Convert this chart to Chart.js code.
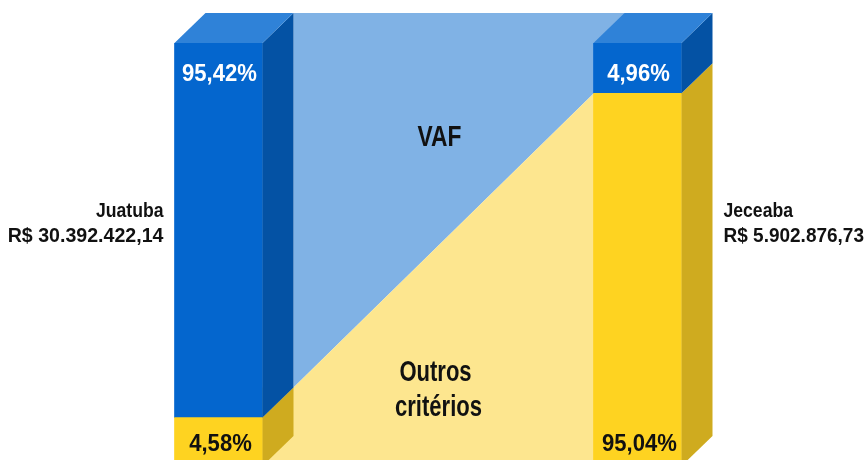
<!DOCTYPE html>
<html>
<head>
<meta charset="utf-8">
<script src="https://cdn.jsdelivr.net/npm/chart.js@4/dist/chart.umd.min.js"></script>
<style>
  html, body { margin: 0; padding: 0; background: #fff; overflow: hidden; }
  canvas { display: block; }
</style>
</head>
<body>
<canvas id="chart" width="866" height="470"></canvas>
<script>
// data
const municipios = ['Juatuba', 'Jeceaba'];
const valores = ['R$ 30.392.422,14', 'R$ 5.902.876,73'];
const vaf = [95.42, 4.96];
const outros = [4.58, 95.04];
const serieNomes = ['Outros critérios', 'VAF'];

const FONT = '"Liberation Sans", Arial, sans-serif';
const DX = 31, DY = -30;

const colors = {
  blue: { front: '#0466ce', side: '#0452a4', top: '#2f82d8', light: '#80b2e5' },
  yellow: { front: '#fed321', side: '#cfab1f', top: '#fde272', light: '#fde68f' }
};

// the picture stretches the small slices, so the value axis is warped a bit
const warpIn = [0, 5, 95, 100];
const warpOut = [0, 12.5, 88, 100];
function lerp(v, a, b) {
  for (let i = 0; i < a.length - 1; i++) {
    if (v <= a[i + 1] || i === a.length - 2) {
      return b[i] + (v - a[i]) * (b[i + 1] - b[i]) / (a[i + 1] - a[i]);
    }
  }
  return v;
}

class WarpScale extends Chart.LinearScale {
  getPixelForValue(value) {
    return super.getPixelForValue(lerp(value, warpIn, warpOut));
  }
  getValueForPixel(pixel) {
    return lerp(super.getValueForPixel(pixel), warpOut, warpIn);
  }
}
WarpScale.id = 'warp';
WarpScale.defaults = Chart.LinearScale.defaults;
Chart.register(WarpScale);

function poly(ctx, pts, fill) {
  ctx.beginPath();
  ctx.moveTo(pts[0][0], pts[0][1]);
  for (let i = 1; i < pts.length; i++) ctx.lineTo(pts[i][0], pts[i][1]);
  ctx.closePath();
  ctx.fillStyle = fill;
  ctx.fill();
}

// condensed bold text: squeeze a regular bold face horizontally
function text(ctx, str, x, y, size, color, align, sx) {
  ctx.save();
  ctx.translate(x, y);
  ctx.scale(sx || 0.9, 1);
  ctx.font = 'bold ' + size + 'px ' + FONT;
  ctx.fillStyle = color;
  ctx.textAlign = align || 'center';
  ctx.textBaseline = 'middle';
  ctx.fillText(str, 0, 0);
  ctx.restore();
}

const ribbon = {
  id: 'ribbon',
  beforeDatasetsDraw(chart) {
    const ctx = chart.ctx;
    const y = chart.scales.y;
    const left = chart.getDatasetMeta(0).data[0];
    const right = chart.getDatasetMeta(0).data[1];
    const xe = left.x + left.width / 2 + DX;
    const x0 = left.x;
    const x1 = right.x - right.width / 2 + DX;
    const top = y.getPixelForValue(100) + DY;
    const bottom = chart.height;
    const yl = y.getPixelForValue(outros[0]) + DY;
    const yr = y.getPixelForValue(outros[1]) + DY;
    ctx.save();
    poly(ctx, [[xe, top], [x1, top], [x1, yr], [xe, yl]], colors.blue.light);
    poly(ctx, [[x0, yl], [xe, yl], [x1, yr], [x1, bottom], [x0, bottom]], colors.yellow.light);
    const mid = (xe + right.x - right.width / 2) / 2 - 4;
    text(ctx, 'VAF', mid, 138, 30, '#111', 'center', 0.76);
    text(ctx, 'Outros', mid - 4, 373, 29, '#111', 'center', 0.76);
    text(ctx, 'critérios', mid - 1, 408, 29, '#111', 'center', 0.76);
    ctx.restore();
  },
  afterDatasetsDraw(chart) {
    const ctx = chart.ctx;
    const metas = [chart.getDatasetMeta(0), chart.getDatasetMeta(1)];
    const pal = [colors.yellow, colors.blue];
    ctx.save();
    for (let i = 0; i < municipios.length; i++) {
      metas.forEach((meta, d) => {
        const bar = meta.data[i];
        const r = bar.x + bar.width / 2;
        const l = bar.x - bar.width / 2;
        const yt = Math.min(bar.y, bar.base);
        const yb = Math.max(bar.y, bar.base);
        poly(ctx, [[r, yt], [r + DX, yt + DY], [r + DX, yb + DY], [r, yb]], pal[d].side);
        if (d === metas.length - 1) {
          poly(ctx, [[l, yt], [l + DX, yt + DY], [r + DX, yt + DY], [r, yt]], pal[d].top);
        }
      });
      // percentage labels
      const bTop = metas[1].data[i];
      const bBot = metas[0].data[i];
      const pct = v => v.toFixed(2).replace('.', ',') + '%';
      text(ctx, pct(vaf[i]), bTop.x + 1, bTop.y + 31, 24, '#fff', 'center', 0.92);
      text(ctx, pct(outros[i]), bBot.x + 2, 444, 24, '#111', 'center', 0.92);
      // municipality labels
      if (i === 0) {
        const x = bTop.x - bTop.width / 2 - 11;
        text(ctx, municipios[i], x, 211, 20, '#111', 'right', 0.88);
        text(ctx, valores[i], x, 236, 20, '#111', 'right', 0.98);
      } else {
        const x = bTop.x + bTop.width / 2 + DX + 11;
        text(ctx, municipios[i], x, 211, 20, '#111', 'left', 0.88);
        text(ctx, valores[i], x, 236, 20, '#111', 'left', 0.95);
      }
    }
    ctx.restore();
  }
};

new Chart(document.getElementById('chart'), {
  type: 'bar',
  data: {
    labels: municipios,
    datasets: [
      { label: serieNomes[0], data: outros, backgroundColor: colors.yellow.front },
      { label: serieNomes[1], data: vaf, backgroundColor: colors.blue.front }
    ]
  },
  options: {
    responsive: false,
    animation: false,
    layout: { padding: { left: 9, right: 19, top: 43, bottom: 4 } },
    datasets: { bar: { barThickness: 88, borderWidth: 0, borderSkipped: false } },
    scales: {
      x: { display: false, stacked: true, offset: true },
      y: { type: 'warp', display: false, stacked: true, min: 0, max: 100 }
    },
    plugins: { legend: { display: false }, tooltip: { enabled: false } }
  },
  plugins: [ribbon]
});
</script>
</body>
</html>
